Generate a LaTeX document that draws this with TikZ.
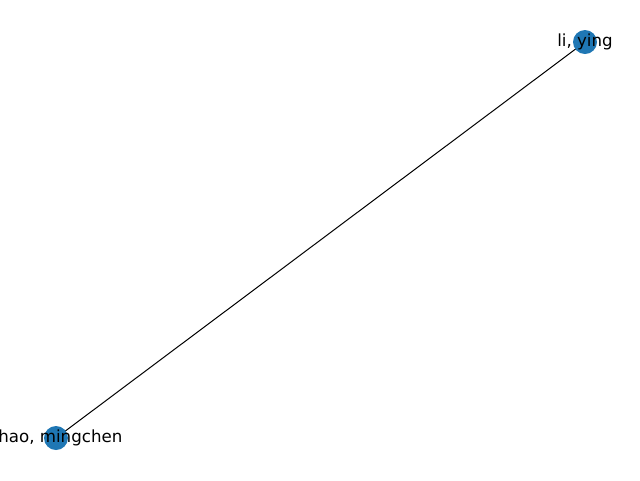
\documentclass[tikz,border=0pt]{standalone}
\usepackage{fontspec}
\setmainfont{DejaVu Sans}
\usetikzlibrary{backgrounds}
\definecolor{nodeblue}{RGB}{31,119,180}
\tikzset{every picture/.style={line width=0.75pt}}
\tikzset{
  author/.style={circle,fill=nodeblue,draw=none,minimum size=18pt,inner sep=0pt},
  authorlabel/.style={inner sep=0pt,font=\fontsize{12.5}{15}\selectfont},
  coauthor/.style={draw=black,line width=0.75pt}
}
\begin{document}
\begin{tikzpicture}[x=0.75pt,y=0.75pt,yscale=-1,xscale=1]
\useasboundingbox (0,0) rectangle (640,480);
\clip (0,0) rectangle (640,480);

% Nodes
\node [author] (zhao) at (56,438) {};
\node [author] (li) at (585,42) {};

% Edge
\begin{scope}[on background layer]
\draw [coauthor] (zhao.center) -- (li.center);
\end{scope}

% Text Nodes
\node [authorlabel] (zhaolabel) at (zhao) {zhao, mingchen};
\node [authorlabel] (lilabel) at (li) {li, ying};

\end{tikzpicture}
\end{document}
